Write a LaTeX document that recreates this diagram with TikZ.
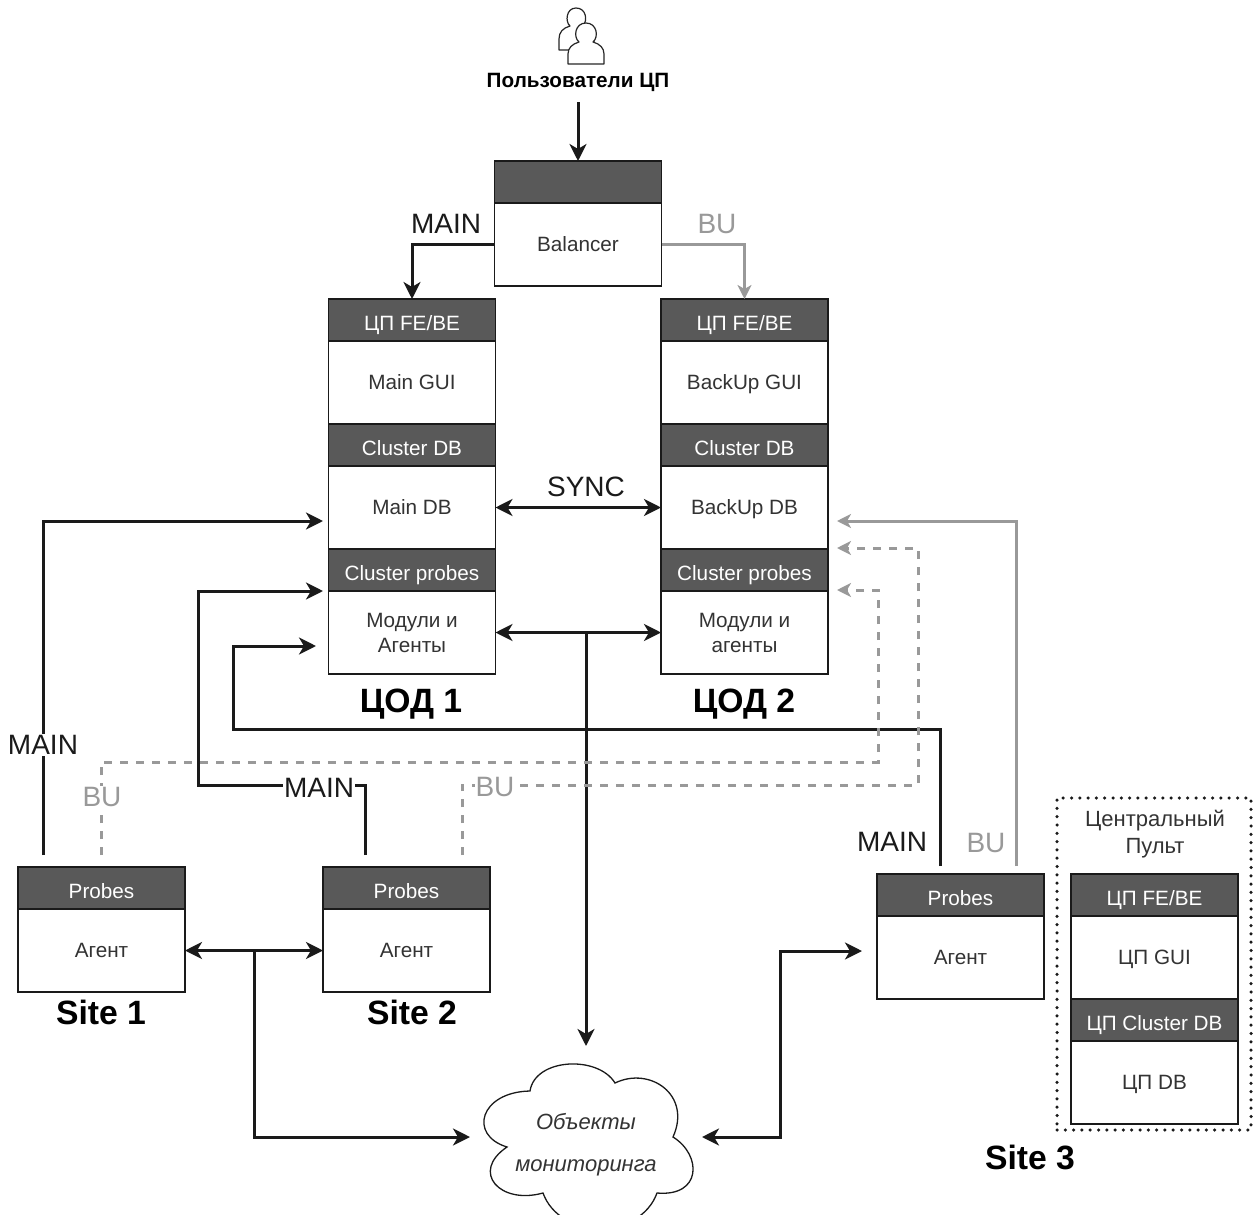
\documentclass[tikz,border=0pt]{standalone}
\usepackage{fontspec}
\setmainfont{Liberation Sans}
\usetikzlibrary{positioning,arrows.meta}
\definecolor{headgray}{HTML}{595959}
\definecolor{lightline}{HTML}{999999}
\definecolor{darkline}{HTML}{1A1A1A}
\definecolor{bodytext}{HTML}{333333}
\begin{document}
\begin{tikzpicture}[x=1pt, y=-1pt, node distance=0pt,
    headbox/.style={draw=darkline, line width=1.3pt, fill=headgray, text=white, outer sep=0pt, inner sep=0pt,
      minimum width=167pt, minimum height=42pt, text height=20pt, text depth=0pt, font=\fontsize{20.7}{25}\selectfont},
    bodybox/.style={draw=darkline, line width=1.3pt, fill=white, text=bodytext, outer sep=0pt, inner sep=0pt,
      minimum width=167pt, minimum height=83pt, align=center, font=\fontsize{20.7}{25}\selectfont},
    linebox/.style={bodybox, text height=14pt, text depth=0pt},
    mainlink/.style={draw=darkline, line width=3pt, -{Stealth[length=17pt, width=17pt, inset=5pt]}},
    bothlink/.style={mainlink, {Stealth[length=17pt, width=17pt, inset=5pt]}-{Stealth[length=17pt, width=17pt, inset=5pt]}},
    bulink/.style={draw=lightline, line width=3pt, -{Stealth[length=14pt, width=14pt, inset=4pt]}},
    budash/.style={bulink, dash pattern=on 8pt off 8pt},
    tag/.style={fill=white, inner sep=1pt, text=darkline, font=\fontsize{28}{30}\selectfont},
    butag/.style={tag, text=lightline},
    sitename/.style={text=black, inner sep=0pt, font=\fontsize{33.7}{36}\selectfont\bfseries}]
  \useasboundingbox (0,0) rectangle (1259,1215);

  \begin{scope}[draw=black!85, line width=1.2pt, fill=white, line join=round]
    \filldraw (559,50) -- (559,39) .. controls (559,32) and (563,28) .. (570,26)
      .. controls (565,22) and (566,8) .. (576,8) .. controls (586,8) and (588,20) .. (583,26)
      .. controls (590,28) and (594,32) .. (594,39) -- (594,50) -- cycle;
    \filldraw (568,64) -- (568,54) .. controls (568,48) and (572,44) .. (579,42)
      .. controls (573,37) and (575,23) .. (586,23) .. controls (597,23) and (599,37) .. (593,42)
      .. controls (600,44) and (604,48) .. (604,54) -- (604,64) -- cycle;
  \end{scope}
  \node[inner sep=2pt, text=black, font=\fontsize{20.7}{24}\selectfont\bfseries] (userlabel) at (578,82) {Пользователи ЦП};

  \node[headbox] (balhead) at (578,182) {};
  \node[linebox, below=of balhead] (balbody) {Balancer};

  \node[headbox] (fe1) at (412,320) {ЦП FE/BE};
  \node[linebox, below=of fe1] (gui1) {Main GUI};
  \node[headbox, below=of gui1] (cluster1) {Cluster DB};
  \node[linebox, below=of cluster1] (db1) {Main DB};
  \node[headbox, below=of db1] (probes1) {Cluster probes};
  \node[bodybox, below=of probes1] (mod1) {Модули и\\Агенты};
  \node[sitename] (cod1) at (411,704) {ЦОД 1};

  \node[headbox] (fe2) at (744.5,320) {ЦП FE/BE};
  \node[linebox, below=of fe2] (gui2) {BackUp GUI};
  \node[headbox, below=of gui2] (cluster2) {Cluster DB};
  \node[linebox, below=of cluster2] (db2) {BackUp DB};
  \node[headbox, below=of db2] (probes2) {Cluster probes};
  \node[bodybox, below=of probes2] (mod2) {Модули и\\агенты};
  \node[sitename] (cod2) at (744,704) {ЦОД 2};

  \node[headbox] (site1head) at (101.5,888) {Probes};
  \node[linebox, below=of site1head] (site1body) {Агент};
  \node[sitename] (site1) at (101,1012) {Site 1};

  \node[headbox] (site2head) at (406.5,888) {Probes};
  \node[linebox, below=of site2head] (site2body) {Агент};
  \node[sitename] (site2) at (412,1012) {Site 2};

  \node[headbox] (site3head) at (960.5,895) {Probes};
  \node[linebox, below=of site3head] (site3body) {Агент};
  \node[sitename] (site3) at (1030,1157) {Site 3};

  \node[draw=darkline, line width=3.5pt, dash pattern=on 0pt off 8.3pt, line cap=round, minimum width=194pt,
    minimum height=332pt, outer sep=0pt] (pultframe) at (1154,964) {};
  \node[text=bodytext, align=center, inner sep=0pt, font=\fontsize{22}{27}\selectfont] (pultname) at (1155,834) {Центральный\\Пульт};
  \node[headbox] (pultfe) at (1154.5,895) {ЦП FE/BE};
  \node[linebox, below=of pultfe] (pultgui) {ЦП GUI};
  \node[headbox, below=of pultgui] (pultcluster) {ЦП Cluster DB};
  \node[linebox, below=of pultcluster] (pultdb) {ЦП DB};

  \draw[draw=darkline, line width=1.3pt] (530,1091) .. controls (535,1058) and (598,1055) .. (615,1083)
    .. controls (650,1066) and (692,1095) .. (673,1137) .. controls (702,1155) and (702,1197) .. (657,1193)
    .. controls (640,1240) and (560,1240) .. (543,1193) .. controls (500,1205) and (470,1172) .. (507,1147)
    .. controls (468,1135) and (480,1092) .. (530,1091) -- cycle;
  \node[inner sep=0pt, text=bodytext, align=center, font=\fontsize{22}{42}\selectfont\itshape] (objects) at (586,1145) {Объекты\\мониторинга};

  \coordinate (objtop) at (586,1046);
  \coordinate (objleft) at (470,1137);
  \coordinate (objright) at (702,1137);
  \coordinate (site1main) at (43,855);
  \coordinate (site1bu) at (101,855);
  \coordinate (site2main) at (365,855);
  \coordinate (site2bu) at (462,855);
  \coordinate (site3main) at (940,866);
  \coordinate (site3bu) at (1016,866);
  \coordinate (main1in) at (323,521);
  \coordinate (main2in) at (323,591);
  \coordinate (main3in) at (316,646);
  \coordinate (bu1in) at (837,590);
  \coordinate (bu2in) at (837,548);
  \coordinate (bu3in) at (837,521);
  \coordinate (site3in) at (862,951);

  \draw[mainlink, shorten <=9pt] (userlabel.south) -- (balhead.north);
  \draw[mainlink] (balbody.west) -| (fe1.north);
  \draw[bulink] (balbody.east) -| (fe2.north);
  \draw[bothlink] (db1.east) -- (db2.west);
  \draw[bothlink] (mod1.east) -- (mod2.west);
  \draw[mainlink] (objtop |- mod1.east) -- (objtop);
  \draw[bothlink] (site1body.east) -- (site2body.west);
  \draw[mainlink] (254,951) |- (objleft);
  \draw[bothlink] (objright) -| (780,951) -- (site3in);

  \draw[mainlink] (site1main) |- (main1in);
  \draw[mainlink] (site2main) -- (365,785) -| (198,591) -- (main2in);
  \draw[mainlink] (site3main) -- (940,729) -| (233,646) -- (main3in);
  \draw[budash] (site1bu) -- (101,762) -| (878,590) -- (bu1in);
  \draw[budash] (site2bu) -- (462,785) -| (918,548) -- (bu2in);
  \draw[bulink] (site3bu) |- (bu3in);

  \node[tag] (mainbal) at (446,224) {MAIN};
  \node[butag] (bubal) at (717,224) {BU};
  \node[tag, fill=none] (syncdb) at (586,487) {SYNC};
  \node[tag] (mainsite1) at (43,745) {MAIN};
  \node[butag] (busite1) at (102,797) {BU};
  \node[tag] (mainsite2) at (319,788) {MAIN};
  \node[butag] (busite2) at (495,787) {BU};
  \node[tag] (mainsite3) at (892,842) {MAIN};
  \node[butag] (busite3) at (986,843) {BU};
\end{tikzpicture}
\end{document}
